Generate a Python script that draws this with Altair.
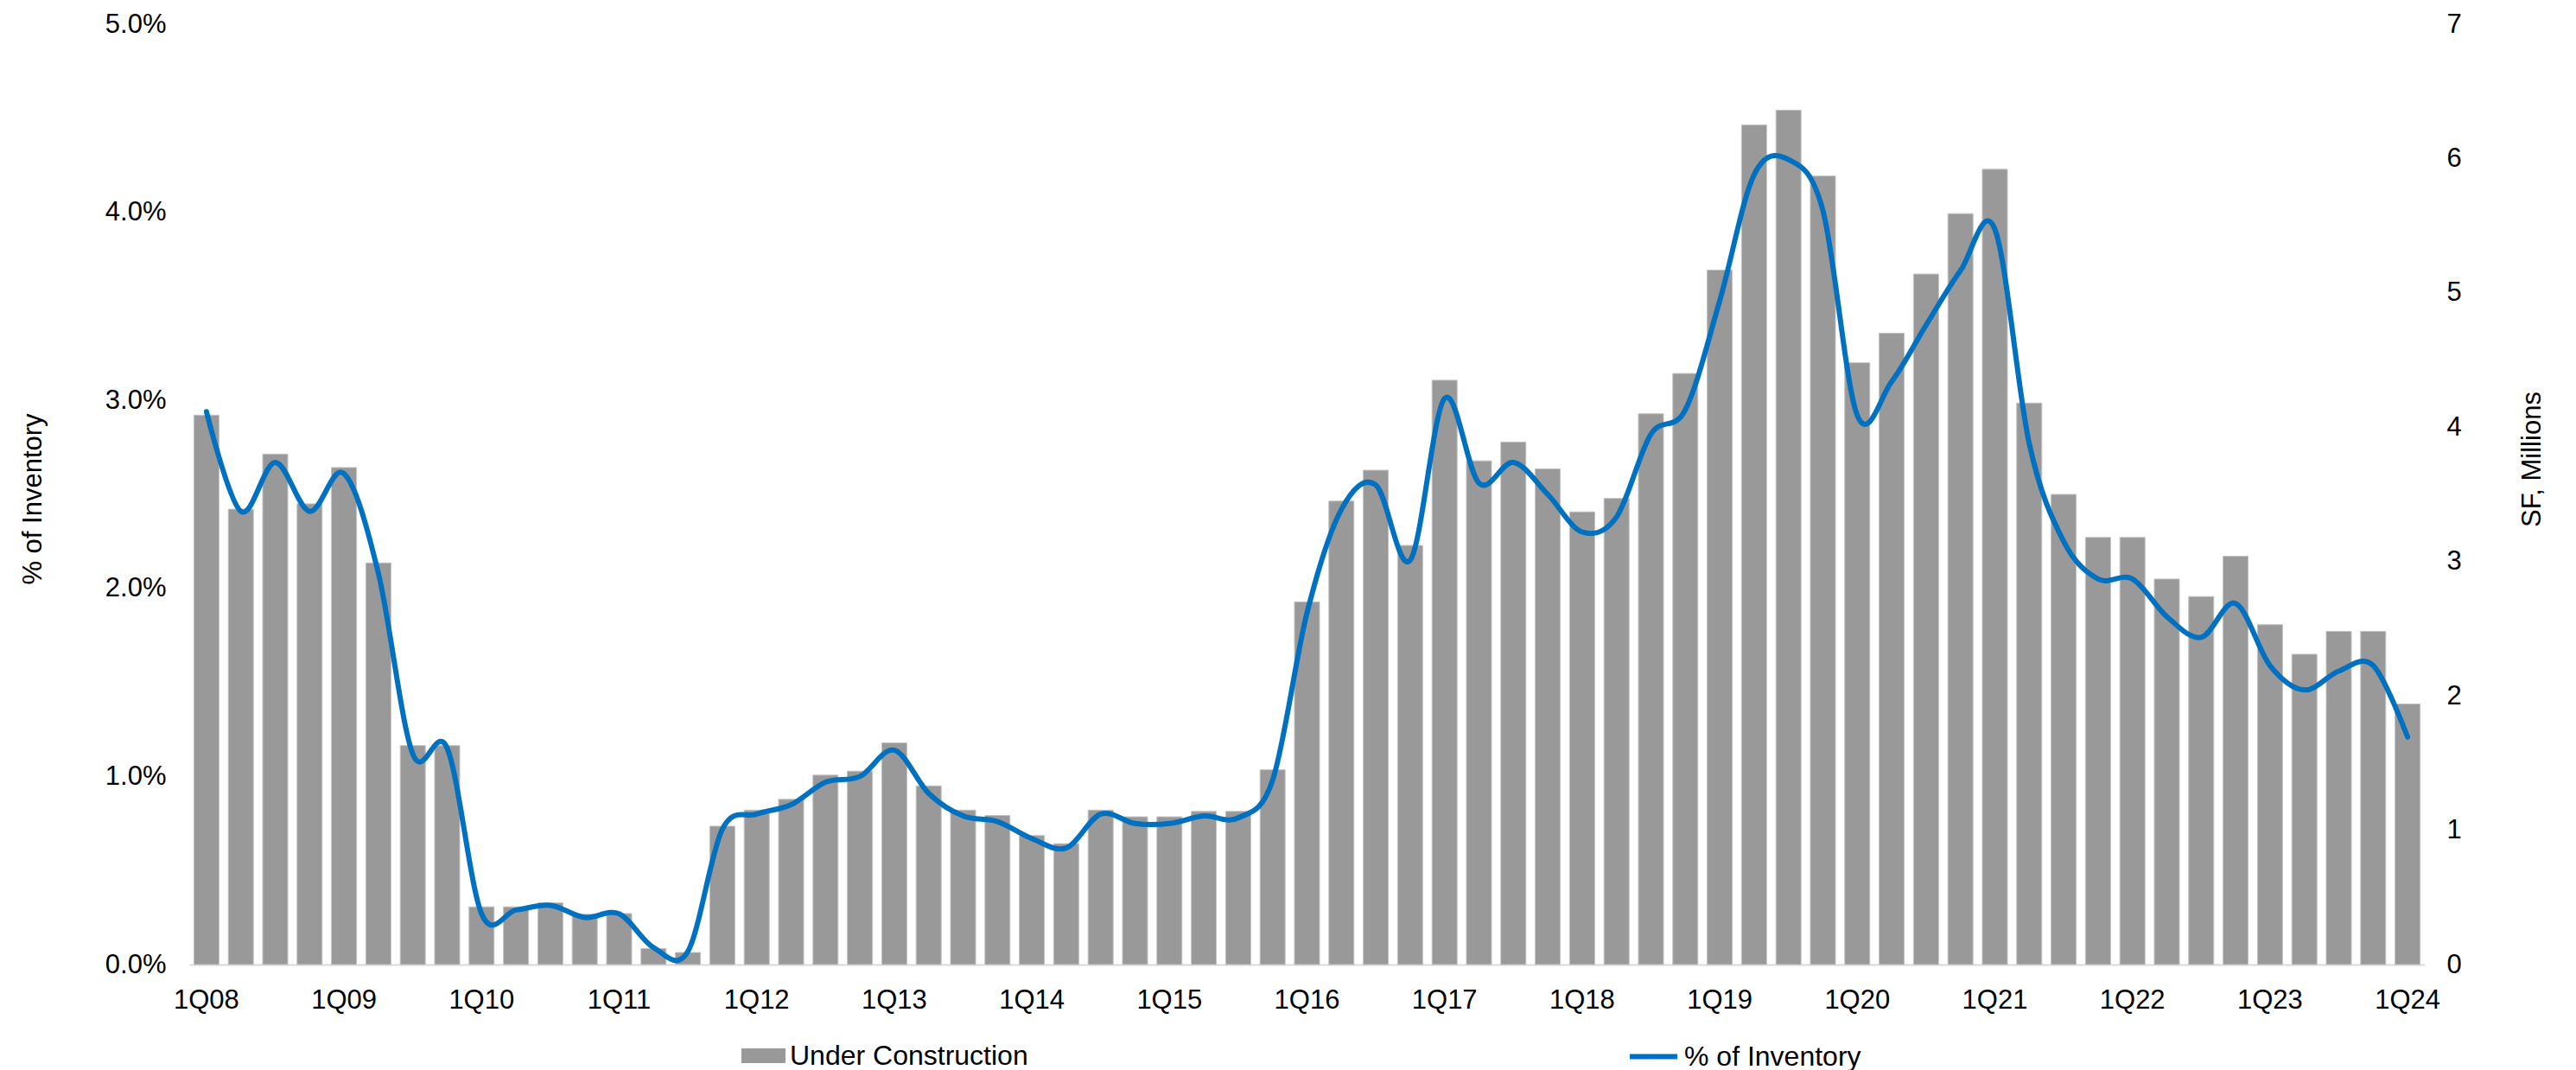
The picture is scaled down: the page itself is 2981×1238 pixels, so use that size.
import altair as alt
import pandas as pd

# Quarterly series, 1Q08 through 1Q24
quarters = [f"{q}Q{y:02d}" for y in range(8, 25) for q in range(1, 5)][:65]

# Space under construction, SF in millions (right axis)
under_construction = [
    4.09, 3.39, 3.80, 3.43, 3.70, 2.99, 1.63, 1.63, 0.43, 0.43,
    0.46, 0.375, 0.38, 0.12, 0.09, 1.03, 1.15, 1.23, 1.41, 1.44,
    1.65, 1.33, 1.15, 1.11, 0.96, 0.90, 1.15, 1.10, 1.10, 1.14,
    1.14, 1.45, 2.70, 3.45, 3.68, 3.12, 4.35, 3.75, 3.89, 3.69,
    3.37, 3.47, 4.10, 4.40, 5.17, 6.25, 6.36, 5.87, 4.48, 4.70,
    5.14, 5.59, 5.92, 4.18, 3.50, 3.18, 3.18, 2.87, 2.74, 3.04,
    2.53, 2.31, 2.48, 2.48, 1.94,
]

# Under construction as a share of inventory, in percent (left axis)
pct_inventory = [
    2.94, 2.41, 2.67, 2.41, 2.61, 2.08, 1.12, 1.15, 0.27, 0.29,
    0.315, 0.25, 0.27, 0.09, 0.07, 0.72, 0.80, 0.85, 0.97, 1.00,
    1.14, 0.91, 0.79, 0.76, 0.67, 0.62, 0.80, 0.75, 0.75, 0.79,
    0.78, 0.98, 1.87, 2.42, 2.55, 2.15, 3.01, 2.56, 2.67, 2.50,
    2.30, 2.38, 2.82, 2.95, 3.53, 4.20, 4.28, 4.01, 2.92, 3.10,
    3.40, 3.69, 3.91, 2.77, 2.25, 2.05, 2.05, 1.85, 1.74, 1.92,
    1.59, 1.46, 1.56, 1.59, 1.21,
]

year_ticks = [f"1Q{y:02d}" for y in range(8, 25)]
pct_ticks = [0, 1, 2, 3, 4, 5]
sf_ticks = [0, 1, 2, 3, 4, 5, 6, 7]

df = pd.DataFrame({
    "quarter": quarters,
    "sf": under_construction,
    "pct": pct_inventory,
    "bar_key": "Under Construction",
    "line_key": "% of Inventory",
})

FONT = "Liberation Sans"
FS = 31
LEG_FS = 32
W, H = 2587, 1088
PAD = {"left": 219, "top": 28, "right": 2981 - 219 - W, "bottom": 1238 - 28 - H}

x_enc = alt.X(
    "quarter:N",
    sort=quarters,
    scale=alt.Scale(paddingInner=0.27, paddingOuter=0.135),
    axis=alt.Axis(
        values=year_ticks, labelAngle=0, title=None, ticks=False, tickSize=0,
        labelPadding=50, labelBaseline="alphabetic", labelFont=FONT,
        labelFontSize=FS, labelColor="#000000", domainColor="#D9D9D9",
        domainWidth=2, grid=False,
    ),
)

bars = alt.Chart(df).mark_bar(
    color="#999999", stroke="#C4C4C4", strokeWidth=1
).encode(
    x=x_enc,
    y=alt.Y(
        "sf:Q",
        scale=alt.Scale(domain=[0, 7], nice=False, zero=True),
        axis=alt.Axis(
            orient="right", values=sf_ticks, format="d", title="SF, Millions",
            titleAngle=270, titleX=133, titleY=503, titleAlign="center",
            titleBaseline="alphabetic", titleFont=FONT, titleFontSize=FS,
            titleFontWeight="normal", titleColor="#000000",
            labelFont=FONT, labelFontSize=FS, labelColor="#000000",
            labelPadding=25, ticks=False, tickSize=0, domain=False, grid=False,
        ),
    ),
    fill=alt.Fill(
        "bar_key:N",
        scale=alt.Scale(range=["#999999"]),
        legend=alt.Legend(
            title=None, orient="none", legendX=639, legendY=1168, padding=0,
            symbolType="M-1,-0.333H1V0.333H-1Z", symbolSize=2601,
            symbolStrokeWidth=0, labelFont=FONT, labelFontSize=LEG_FS,
            labelColor="#000000", labelOffset=5, labelLimit=0,
        ),
    ),
)

line = alt.Chart(df).mark_line(
    interpolate="cardinal", tension=0, strokeWidth=6, strokeCap="round"
).encode(
    x=x_enc,
    y=alt.Y(
        "pct:Q",
        scale=alt.Scale(domain=[0, 5], nice=False, zero=True),
        axis=alt.Axis(
            orient="left", values=pct_ticks,
            labelExpr="format(datum.value, '.1f') + '%'",
            title="% of Inventory", titleAngle=270, titleX=-172, titleY=549,
            titleAlign="center", titleBaseline="alphabetic", titleFont=FONT,
            titleFontSize=FS, titleFontWeight="normal", titleColor="#000000",
            labelFont=FONT, labelFontSize=FS, labelColor="#000000",
            labelPadding=27, ticks=False, tickSize=0, domain=False, grid=False,
        ),
    ),
    stroke=alt.Stroke(
        "line_key:N",
        scale=alt.Scale(range=["#0070C0"]),
        legend=alt.Legend(
            title=None, orient="none", legendX=1664, legendY=1164, padding=0,
            symbolType="stroke", symbolSize=3025, symbolStrokeWidth=6,
            labelFont=FONT, labelFontSize=LEG_FS, labelColor="#000000",
            labelOffset=5, labelLimit=0,
        ),
    ),
)

chart = (
    alt.layer(bars, line)
    .resolve_scale(y="independent", fill="independent", stroke="independent")
    .properties(width=W, height=H, padding=PAD, autosize="none", background="#FFFFFF")
    .configure_view(strokeWidth=0)
)

chart.save("out.html", embed_options={"renderer": "svg", "actions": False})
